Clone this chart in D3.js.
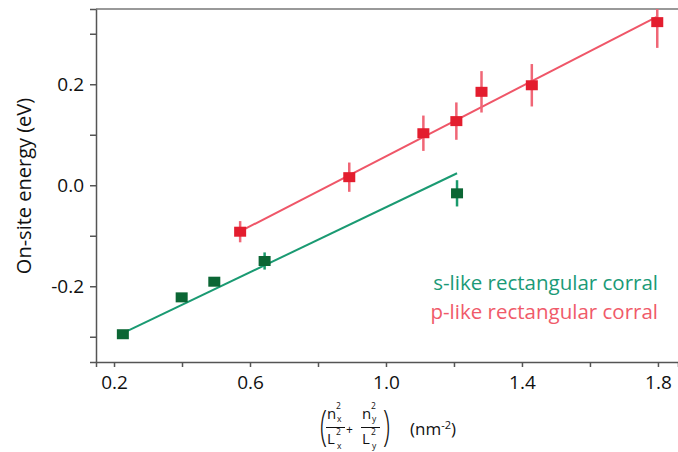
<!DOCTYPE html>
<html lang="en">
<head>
  <meta charset="utf-8">
  <title>On-site energy</title>
  <script src="https://d3js.org/d3.v7.min.js"></script>
  <style>
    body { margin: 0; background: #fff; }
    text { font-family: "Open Sans", sans-serif; fill: #111; }
  </style>
</head>
<body>
<div id="my_dataviz"></div>
<script>
// p-like rectangular corral
const pX   = [0.571, 0.892, 1.110, 1.207, 1.281, 1.429, 1.798];
const pY   = [-0.092, 0.016, 0.103, 0.127, 0.185, 0.198, 0.323];
const pErr = [0.021, 0.029, 0.035, 0.037, 0.041, 0.042, 0.051];
const pFit = [[0.571, -0.0914], [1.798, 0.334]];

// s-like rectangular corral
const sX   = [0.226, 0.399, 0.495, 0.643, 1.209];
const sY   = [-0.295, -0.222, -0.191, -0.150, -0.016];
const sErr = [0.003, 0.006, 0.008, 0.017, 0.026];
const sFit = [[0.226, -0.293], [1.209, 0.0238]];

const xTicks = [0.2, 0.4, 0.6, 0.8, 1.0, 1.2, 1.4, 1.6, 1.8];
const xLabels = [0.2, 0.6, 1.0, 1.4, 1.8];
const yTicks = [-0.3, -0.2, -0.1, 0.0, 0.1, 0.2, 0.3];
const yLabels = [-0.2, 0.0, 0.2];

const W = 678, H = 452;
const margin = {top: 9, right: 0, bottom: 90, left: 96};
const width = W - margin.left - margin.right,
      height = H - margin.top - margin.bottom;

const svg = d3.select("#my_dataviz")
  .append("svg")
    .attr("width", W)
    .attr("height", H)
  .append("g")
    .attr("transform", `translate(${margin.left},${margin.top})`);

const x = d3.scaleLinear().domain([0.147, 1.859]).range([0, width]);
const y = d3.scaleLinear().domain([-0.35, 0.349]).range([height, 0]);

// plain hyphen for negatives, like the original
const fmt = d => Math.abs(d) < 1e-9 ? "0.0" : d.toFixed(1);
const has = (arr, d) => arr.some(v => Math.abs(v - d) < 1e-9);

// axes
const xAxis = svg.append("g")
  .attr("transform", `translate(0,${height})`)
  .call(d3.axisBottom(x).tickValues(xTicks).tickSizeOuter(0).tickSize(5).tickPadding(9)
    .tickFormat(d => has(xLabels, d) ? fmt(d) : ""));
const yAxis = svg.append("g")
  .call(d3.axisLeft(y).tickValues(yTicks).tickSizeOuter(0).tickSize(6).tickPadding(6)
    .tickFormat(d => has(yLabels, d) ? fmt(d) : ""));

[xAxis, yAxis].forEach(a => {
  a.selectAll("path, line").attr("stroke", "#555").attr("stroke-width", 1.5);
  a.selectAll("text").style("font-size", "19px").attr("fill", "#111");
});

// top frame line
svg.append("line")
  .attr("x1", 0).attr("x2", width).attr("y1", 0).attr("y2", 0)
  .attr("stroke", "#777").attr("stroke-width", 1.5);

// fit lines
const line = d3.line().x(d => x(d[0])).y(d => y(d[1]));
svg.append("path").datum(sFit).attr("d", line)
  .attr("fill", "none").attr("stroke", "#1a9a72").attr("stroke-width", 2);
svg.append("path").datum(pFit).attr("d", line)
  .attr("fill", "none").attr("stroke", "#ef5668").attr("stroke-width", 2);

function drawSeries(xs, ys, errs, barColor, boxColor) {
  const pts = xs.map((v, i) => ({x: v, y: ys[i], e: errs[i]}));
  svg.append("g").selectAll("line")
    .data(pts)
    .join("line")
      .attr("x1", d => x(d.x)).attr("x2", d => x(d.x))
      .attr("y1", d => y(d.y - d.e)).attr("y2", d => Math.max(0, y(d.y + d.e)))
      .attr("stroke", barColor).attr("stroke-width", 2.5);
  svg.append("g").selectAll("rect")
    .data(pts)
    .join("rect")
      .attr("x", d => x(d.x) - 6)
      .attr("y", d => y(d.y) - 5)
      .attr("width", 12)
      .attr("height", 10)
      .attr("fill", boxColor);
}
drawSeries(sX, sY, sErr, "#1a9a6c", "#0b6634");
drawSeries(pX, pY, pErr, "#f06676", "#e31d2e");

// legend
svg.append("text").attr("x", 562).attr("y", 281).attr("text-anchor", "end")
  .style("font-size", "20.5px").style("fill", "#1b9a77").text("s-like rectangular corral");
svg.append("text").attr("x", 562).attr("y", 310).attr("text-anchor", "end")
  .style("font-size", "20.5px").style("fill", "#f05a6a").text("p-like rectangular corral");

// y label
svg.append("text")
  .attr("transform", `translate(${31 - margin.left},${186 - margin.top}) rotate(-90)`)
  .attr("text-anchor", "middle")
  .style("font-size", "20px")
  .text("On-site energy (eV)");

// x label: (n_x^2/L_x^2 + n_y^2/L_y^2) (nm^-2)
const lab = d3.select("svg").append("g");
lab.append("text").attr("transform", "translate(320,440) scale(0.6,1)")
  .style("font-size", "43px").style("font-weight", "300").text("(");
lab.append("text").attr("transform", "translate(383,440) scale(0.6,1)")
  .style("font-size", "43px").style("font-weight", "300").text(")");
function frac(x0, sub) {
  lab.append("text").attr("x", x0).attr("y", 419).style("font-size", "15px").text("n");
  lab.append("text").attr("x", x0 + 9).attr("y", 409).style("font-size", "8.5px").text("2");
  lab.append("text").attr("x", x0 + 10).attr("y", 422).style("font-size", "8.5px").text(sub);
  lab.append("line").attr("x1", x0 - 1).attr("x2", x0 + 18).attr("y1", 427.5).attr("y2", 427.5)
    .attr("stroke", "#111").attr("stroke-width", 1);
  lab.append("text").attr("x", x0).attr("y", 444).style("font-size", "15px").text("L");
  lab.append("text").attr("x", x0 + 9).attr("y", 435).style("font-size", "8.5px").text("2");
  lab.append("text").attr("x", x0 + 10).attr("y", 449).style("font-size", "8.5px").text(sub);
}
frac(327, "x");
lab.append("text").attr("x", 346).attr("y", 434).style("font-size", "12px").text("+");
frac(362, "y");
const nm = lab.append("text").attr("x", 410).attr("y", 435).style("font-size", "17px");
nm.append("tspan").text("(nm");
nm.append("tspan").attr("dy", -6).style("font-size", "11px").text("-2");
nm.append("tspan").attr("dy", 6).text(")");
</script>
</body>
</html>
